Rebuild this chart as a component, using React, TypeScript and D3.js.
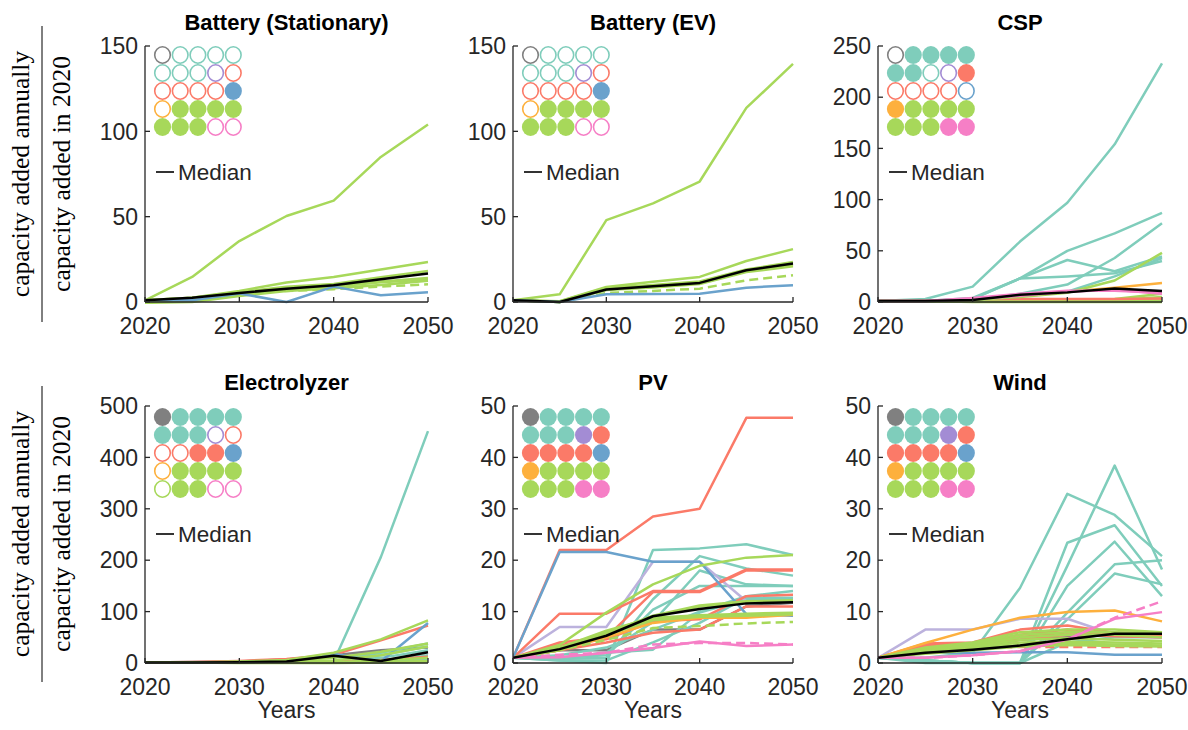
import React from 'react';
import * as d3 from 'd3';

const years = [2020, 2025, 2030, 2035, 2040, 2045, 2050];
const xTicks = [2020, 2030, 2040, 2050];

const palette: Record<string, string> = {
  gray: '#808080',
  teal: '#7fcdbb',
  purple: '#a38cd4',
  red: '#fb7a68',
  blue: '#6aa2cc',
  orange: '#fdb03d',
  green: '#a7d85a',
  pink: '#f67fc6',
};
const lineColors: Record<string, string> = { ...palette, purple: '#bcb2dd' };

// the 25 models of the legend, row by row
const models = [
  'gray', 'teal', 'teal', 'teal', 'teal',
  'teal', 'teal', 'teal', 'purple', 'red',
  'red', 'red', 'red', 'red', 'blue',
  'orange', 'green', 'green', 'green', 'green',
  'green', 'green', 'green', 'pink', 'pink',
];

const fillStationary = [0,0,0,0,0, 0,0,0,0,0, 0,0,0,0,1, 0,1,1,1,1, 1,1,1,0,0];
const fillEV = [0,0,0,0,0, 0,0,0,0,0, 0,0,0,0,1, 0,1,1,1,1, 1,1,1,0,0];
const fillCSP = [0,1,1,1,1, 1,1,0,0,1, 0,0,0,0,0, 1,1,1,1,1, 1,1,1,1,1];
const fillElectrolyzer = [1,1,1,1,1, 1,1,1,0,0, 0,0,1,1,1, 0,1,1,1,1, 0,1,1,0,0];
const fillPV = [1,1,1,1,1, 1,1,1,1,1, 1,1,1,1,1, 1,1,1,1,1, 1,1,1,1,1];
const fillWind = [1,1,1,1,1, 1,1,1,1,1, 1,1,1,1,1, 1,1,1,1,1, 1,1,1,1,1];

type S = { c: string; d?: boolean; v: number[] };

const seriesStationary: S[] = [
  { c: 'green', v: [1, 14.7, 35.7, 50.4, 59.4, 85, 104] },
  { c: 'green', v: [1, 2.5, 6.5, 11.4, 14.7, 19, 23.5] },
  { c: 'green', v: [1, 2.5, 5.8, 9, 10.5, 14.5, 18.2] },
  { c: 'green', v: [0, 0.5, 4.5, 8.5, 9.5, 12, 14] },
  { c: 'green', v: [0, 0.5, 4, 7.5, 9, 11.5, 13.2] },
  { c: 'green', v: [-0.5, 0, 3.5, 6.5, 8, 10, 12.5] },
  { c: 'green', d: true, v: [0, 0.5, 4.9, 6.5, 7.5, 9, 10.4] },
  { c: 'blue', v: [1, 1, 5, 0, 9, 4, 5.7] },
];
const medianStationary = [1, 2.5, 5.3, 7.8, 9.8, 13.3, 16.7];

const seriesEV: S[] = [
  { c: 'green', v: [1, 4.5, 48, 57.8, 70.6, 113.7, 139.5] },
  { c: 'green', v: [1, 0.5, 8.8, 11.8, 14.7, 24, 31] },
  { c: 'green', v: [1, 0.3, 8.4, 10, 12, 19, 23.5] },
  { c: 'green', v: [1, 0.2, 7.8, 9.5, 11.5, 18.5, 22] },
  { c: 'green', v: [1, 0, 7.5, 9, 11, 18, 21.5] },
  { c: 'green', v: [1, 0, 7, 8.5, 10.5, 17.5, 21] },
  { c: 'green', d: true, v: [1, 0, 5.3, 6.5, 7.8, 12.7, 15.7] },
  { c: 'blue', v: [1, 0, 4.5, 4.7, 4.9, 8.4, 9.8] },
];
const medianEV = [1, 0, 7.3, 9.2, 11.2, 18.6, 22.5];

const seriesCSP: S[] = [
  { c: 'green', v: [1, 1, 0, 0, 0, 0, 0] },
  { c: 'green', v: [1, 1, 0.2, 0.2, 0.2, 0.3, 0.5] },
  { c: 'green', v: [1, 1, 0.3, 0.3, 0.3, 0.5, 1] },
  { c: 'green', v: [1, 1, 0.5, 0.5, 0.5, 1, 3] },
  { c: 'green', v: [1, 1, 0.5, 0.5, 1, 2, 5] },
  { c: 'green', v: [1, 1, 1, 1, 1, 3, 8] },
  { c: 'red', v: [1, 1, 3, 3, 3, 3, 3.5] },
  { c: 'teal', v: [1, 3, 15, 59, 97, 154, 233] },
  { c: 'teal', v: [1, 1, 4, 23, 50, 67, 87] },
  { c: 'teal', v: [1, 1, 2, 8, 17, 43, 77] },
  { c: 'teal', v: [1, 1, 3, 23, 41, 30, 44.5] },
  { c: 'teal', v: [1, 1, 3, 23, 25, 28, 40] },
  { c: 'teal', v: [1, 1, 2, 6, 10, 25, 43] },
  { c: 'orange', v: [1, 1, 2, 7, 10, 14, 18.5] },
  { c: 'green', v: [1, 1, 2, 5, 9, 21, 48] },
  { c: 'pink', v: [1, 1, 3, 6, 10, 12, 8] },
  { c: 'pink', v: [1, 1, 4, 8, 11, 11, 9] },
];
const medianCSP = [1, 1, 2, 7, 9.4, 13.3, 10.7];

const seriesElectrolyzer: S[] = [
  { c: 'gray', v: [1, 2, 3, 7, 15, 25, 30] },
  { c: 'teal', v: [1, 1, 1, 1, 3, 206, 451] },
  { c: 'teal', v: [1, 1, 1, 2, 4, 20, 38] },
  { c: 'teal', v: [1, 1, 1, 2, 3, 15, 32] },
  { c: 'teal', v: [1, 1, 1, 1, 2, 10, 25] },
  { c: 'teal', v: [1, 1, 1, 1, 1, 5, 15] },
  { c: 'teal', v: [1, 1, 1, 1, 1, 2, 8] },
  { c: 'teal', v: [1, 1, 1, 1, 1, 1, 3] },
  { c: 'red', v: [1, 2, 4, 8, 16, 44, 73] },
  { c: 'red', v: [1, 1, 1, 2, 3, 6, 12] },
  { c: 'blue', v: [1, 1, 2, 4, 18, 3, 78] },
  { c: 'green', v: [1, 1, 3, 6, 20, 46, 83] },
  { c: 'green', v: [1, 1, 2, 4, 10, 22, 38] },
  { c: 'green', v: [1, 1, 1, 2, 5, 15, 32] },
  { c: 'green', v: [1, 1, 1, 1, 2, 5, 10] },
  { c: 'green', v: [1, 1, 1, 1, 1, 2, 4] },
  { c: 'green', v: [1, 1, 0, 0, 0, 1, 2] },
];
const medianElectrolyzer = [1, 1, 1.5, 3, 14, 4, 21];

const seriesPV: S[] = [
  { c: 'gray', v: [1, 2.5, 2.5, 6.5, 6.5, 11, 11.7] },
  { c: 'teal', v: [1, 0.5, 0, 22, 22.3, 23.1, 21] },
  { c: 'teal', v: [1, 0.8, 1, 12.4, 20.8, 18.4, 17] },
  { c: 'teal', v: [1, 1, 2, 8, 18, 15.3, 15] },
  { c: 'teal', v: [1, 1, 1.5, 10.4, 15, 15, 15] },
  { c: 'teal', v: [1, 0.5, 0.5, 4, 7.8, 12.7, 12.7] },
  { c: 'teal', v: [1, 1, 2, 2.6, 9.8, 12.4, 12.4] },
  { c: 'teal', v: [1, 1.5, 3, 6.5, 10, 13, 14] },
  { c: 'purple', v: [1, 7, 7, 19.7, 19.7, 12, 12] },
  { c: 'red', v: [1, 22, 22, 28.5, 30, 47.7, 47.7] },
  { c: 'red', v: [1, 9.6, 9.6, 14, 14, 18.2, 18.2] },
  { c: 'red', v: [1, 4, 5, 13.8, 13.8, 18, 18] },
  { c: 'red', v: [1, 3.5, 4.6, 8.1, 8.5, 13, 13.3] },
  { c: 'red', v: [1, 2.5, 4, 5.9, 6.5, 11, 11] },
  { c: 'blue', v: [1, 21.6, 21.6, 19.7, 19.7, 9.5, 9.2] },
  { c: 'orange', v: [1, 2.5, 5, 7.8, 8.8, 8.8, 9.4] },
  { c: 'green', v: [1, 3.5, 9.8, 15.3, 18.9, 20.5, 21] },
  { c: 'green', v: [1, 3, 6, 8.5, 9.1, 9.4, 9.6] },
  { c: 'green', v: [1, 3, 6.3, 8.8, 9.3, 9.6, 9.8] },
  { c: 'green', v: [1, 2.8, 5.5, 9, 11, 11.8, 12] },
  { c: 'green', v: [1, 3, 5.8, 9.2, 11.2, 12, 12.2] },
  { c: 'green', v: [1, 2.5, 5.5, 8.3, 9, 9.2, 9.5] },
  { c: 'green', d: true, v: [1, 2.5, 4.5, 6.8, 7.2, 7.7, 8] },
  { c: 'pink', v: [1, 1.1, 2, 2.9, 4.2, 3.3, 3.6] },
  { c: 'pink', d: true, v: [1, 1.6, 2, 3.6, 3.9, 3.9, 3.6] },
];
const medianPV = [1, 2.7, 5.3, 9.1, 10.5, 11.6, 11.8];

const seriesWind: S[] = [
  { c: 'gray', v: [1, 2.5, 3, 4.5, 5, 5.5, 5.5] },
  { c: 'teal', v: [1, 1, 2, 14.6, 32.9, 28.8, 20.8] },
  { c: 'teal', v: [1, 0.5, 0, 0, 18.9, 38.4, 18.2] },
  { c: 'teal', v: [1, 0.5, 0, 0, 23.4, 26.8, 15] },
  { c: 'teal', v: [1, 0.5, 0, 0, 15, 23.6, 13] },
  { c: 'teal', v: [1, 0.5, 0, 0, 9.8, 19.2, 20] },
  { c: 'teal', v: [1, 0.5, 0, 0, 8.5, 17.4, 15.3] },
  { c: 'teal', v: [1, 0, 0, 0, 4, 5, 5] },
  { c: 'purple', v: [1, 6.5, 6.5, 8.6, 8.6, 5.5, 4.9] },
  { c: 'red', v: [1, 3.8, 4, 6.5, 7.3, 5.9, 5.9] },
  { c: 'red', v: [1, 3.5, 3.8, 5.5, 6.5, 5.5, 5.5] },
  { c: 'red', v: [1, 3.2, 3.5, 5, 6, 5.8, 5.6] },
  { c: 'red', v: [1, 3, 3.5, 4.5, 5.5, 5.2, 5] },
  { c: 'red', d: true, v: [1, 2.5, 3, 3.1, 3.1, 3.1, 3.1] },
  { c: 'blue', v: [1, 2, 2, 2.1, 2.1, 1.6, 1.6] },
  { c: 'orange', v: [1, 3.9, 6.5, 8.8, 9.9, 10.2, 8.1] },
  { c: 'green', v: [1, 3, 4, 6, 6.5, 6.5, 6] },
  { c: 'green', v: [1, 2.8, 3.8, 5.5, 6, 6, 5.8] },
  { c: 'green', v: [1, 2.5, 3.5, 5, 5.5, 5.5, 5] },
  { c: 'green', v: [1, 2.3, 3.2, 4.5, 4.8, 4.5, 4.3] },
  { c: 'green', v: [1, 2, 3, 4, 4.2, 4, 3.8] },
  { c: 'green', v: [1, 2, 2.8, 3.5, 3.8, 3.6, 3.4] },
  { c: 'green', v: [1, 1.8, 2.5, 3.2, 3.5, 3.3, 3.2] },
  { c: 'pink', v: [1, 1, 1.5, 2.3, 4.6, 8.6, 9.9] },
  { c: 'pink', d: true, v: [1, 1, 1.5, 2.3, 4.6, 8.8, 12] },
];
const medianWind = [1, 2, 2.6, 3.4, 4.6, 5.7, 5.7];

const titles = ['Battery (Stationary)', 'Battery (EV)', 'CSP', 'Electrolyzer', 'PV', 'Wind'];
const yMaxes = [150, 150, 250, 500, 50, 50];
const ySteps = [50, 50, 50, 100, 10, 10];

const panelSeries = [seriesStationary, seriesEV, seriesCSP, seriesElectrolyzer, seriesPV, seriesWind];
const panelMedians = [medianStationary, medianEV, medianCSP, medianElectrolyzer, medianPV, medianWind];
const panelFills = [fillStationary, fillEV, fillCSP, fillElectrolyzer, fillPV, fillWind];

const colX = [[145, 428], [513, 793], [878, 1162]];
const rowY = [[46, 302], [406, 663]];

const SANS = '"Liberation Sans", Arial, Helvetica, sans-serif';
const SERIF = '"Liberation Serif", "DejaVu Serif", serif';
const AX = '#262626';

function Panel({ i }: { i: number }) {
  const col = i % 3;
  const row = Math.floor(i / 3);
  const [x0, x1] = colX[col];
  const [y0, y1] = rowY[row];
  const x = d3.scaleLinear().domain([2020, 2050]).range([x0, x1]);
  const y = d3.scaleLinear().domain([0, yMaxes[i]]).range([y1, y0]);
  const yTicks = d3.range(0, yMaxes[i] + 0.001, ySteps[i]);
  const line = d3.line<number>().x((_, k) => x(years[k])).y((v) => y(v));
  const legTop = y0 + (row === 0 ? 9 : 11);
  return (
    <g>
      <defs>
        <clipPath id={`clip${i}`}>
          <rect x={x0} y={y0 - 2} width={x1 - x0 + 2} height={y1 - y0 + 4} />
        </clipPath>
      </defs>
      <text x={(x0 + x1) / 2} y={y0 - 16} textAnchor="middle" fontFamily={SANS} fontWeight="bold" fontSize={22} fill="#000">
        {titles[i]}
      </text>
      <g clipPath={`url(#clip${i})`}>
        {panelSeries[i].map((s, k) => (
          <path key={k} d={line(s.v) || ''} fill="none" stroke={lineColors[s.c]} strokeWidth={2.5}
            strokeDasharray={s.d ? '9 5' : undefined} strokeLinejoin="round" />
        ))}
        <path d={line(panelMedians[i]) || ''} fill="none" stroke="#000" strokeWidth={2.5} strokeLinejoin="round" />
      </g>
      <line x1={x0} x2={x0} y1={y0} y2={y1} stroke={AX} strokeWidth={1.3} />
      <line x1={x0} x2={x1} y1={y1} y2={y1} stroke={AX} strokeWidth={1.3} />
      {yTicks.map((t) => (
        <g key={t}>
          <line x1={x0} x2={x0 + 5} y1={y(t)} y2={y(t)} stroke={AX} strokeWidth={1.3} />
          <text x={x0 - 7} y={y(t)} dy="0.36em" textAnchor="end" fontFamily={SANS} fontSize={23} fill="#262626">{t}</text>
        </g>
      ))}
      {xTicks.map((t) => (
        <g key={t}>
          <line x1={x(t)} x2={x(t)} y1={y1} y2={y1 - 5} stroke={AX} strokeWidth={1.3} />
          <text x={x(t)} y={y1 + 32} textAnchor="middle" fontFamily={SANS} fontSize={23} fill="#262626">{t}</text>
        </g>
      ))}
      {row === 1 && (
        <text x={(x0 + x1) / 2} y={y1 + 55} textAnchor="middle" fontFamily={SANS} fontSize={23} fill="#262626">Years</text>
      )}
      {models.map((m, k) => {
        const r = Math.floor(k / 5);
        const c = k % 5;
        const filled = panelFills[i][k] === 1;
        return (
          <ellipse key={k} cx={x0 + 17.5 + c * 17.7} cy={legTop + r * 18} rx={filled ? 8.6 : 7.8} ry={filled ? 9 : 8.2}
            fill={filled ? palette[m] : '#fff'} stroke={filled ? 'none' : palette[m]} strokeWidth={1.6} />
        );
      })}
      <line x1={x0 + 11} x2={x0 + 29} y1={legTop + 117} y2={legTop + 117} stroke="#000" strokeWidth={1.6} />
      <text x={x0 + 33} y={legTop + 117} dy="0.36em" fontFamily={SANS} fontSize={22.5} fill="#262626">Median</text>
    </g>
  );
}

function YLabel({ cy }: { cy: number }) {
  return (
    <g>
      <text transform={`translate(21,${cy}) rotate(-90)`} textAnchor="middle" fontFamily={SERIF} fontSize={25.5} dy="0.3em">capacity added annually</text>
      <line x1={42} x2={42} y1={cy - 148} y2={cy + 148} stroke="#000" strokeWidth={1} />
      <text transform={`translate(62,${cy}) rotate(-90)`} textAnchor="middle" fontFamily={SERIF} fontSize={25.5} dy="0.3em">capacity added in 2020</text>
    </g>
  );
}

export default function App() {
  return (
    <svg width={1188} height={730} style={{ position: 'absolute', left: 0, top: 0, background: '#fff' }}>
      <rect width={1188} height={730} fill="#fff" />
      <YLabel cy={174} />
      <YLabel cy={534} />
      {titles.map((_, i) => <Panel key={i} i={i} />)}
    </svg>
  );
}
